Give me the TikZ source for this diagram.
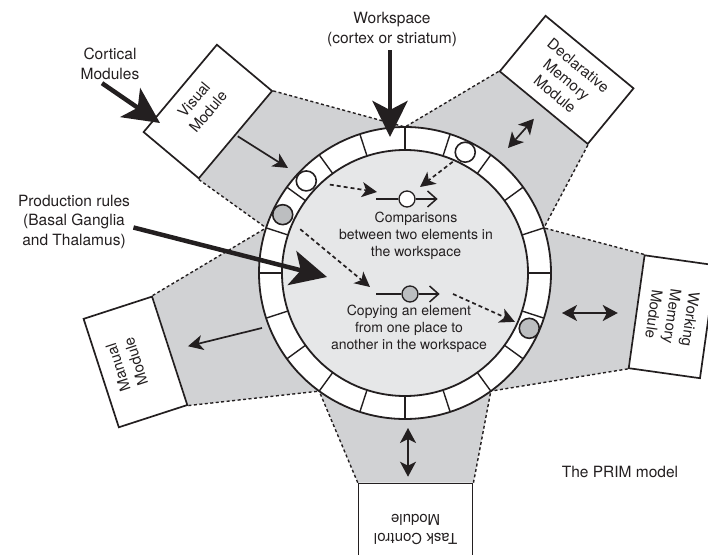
\documentclass[tikz,border=0pt]{standalone}
\usepackage{fontspec}
\setmainfont{TeX Gyre Heros}
\usetikzlibrary{arrows.meta,calc}
\definecolor{wedgegray}{RGB}{209,210,212}
\definecolor{discgray}{RGB}{230,231,232}
\definecolor{tokengray}{RGB}{188,190,192}
\definecolor{ink}{RGB}{35,31,32}
\pgfdeclarelayer{background}
\pgfsetlayers{background,main}

\begin{document}
\begin{tikzpicture}[x=1pt,y=1pt,ink,
  module/.style={draw=ink,line width=1.7pt,fill=white,minimum width=114pt,minimum height=72pt,inner sep=0pt},
  modtext/.style={align=center,font=\fontsize{15}{18.5}\selectfont},
  tag/.style={align=center,font=\fontsize{15.5}{19.5}\selectfont},
  note/.style={align=center,font=\fontsize{14}{17}\selectfont},
  dotline/.style={line width=1.4pt,dash pattern=on 3pt off 2.5pt},
  bigarrow/.style={line width=4.5pt,-{Stealth[length=36pt,width=35pt,inset=9pt]}},
  smallarrow/.style={line width=1.7pt,-{Stealth[length=15pt,width=15pt,inset=4pt]}},
  twoway/.style={line width=1.7pt,{Stealth[length=15pt,width=16pt,inset=4pt]}-{Stealth[length=15pt,width=16pt,inset=4pt]}},
  dasharrow/.style={line width=1.7pt,dash pattern=on 4pt off 3pt,-{Stealth[length=15pt,width=15pt,inset=4pt]}},
  slot/.style={circle,draw=ink,line width=1.6pt,minimum size=20pt,inner sep=0pt},
  token/.style={circle,draw=ink,line width=1.3pt,minimum size=16pt,inner sep=0pt},
  pointer/.style={line width=1.5pt,-{Straight Barb[length=9pt,width=16pt]}}]

\useasboundingbox (0,0) rectangle (708,554);
\clip (0,0) rectangle (708,554);

\begin{scope}[shift={(405,281)}]
\coordinate (C) at (0,0);
\foreach \a [count=\i] in {90,162,234,306,18}
  \coordinate (p\i) at (\a:146);

% modules round the workspace
\node[module,rotate=50,anchor=south] (visual) at (140.8:218) {};
\node[module,rotate=-39.5,anchor=south] (decl) at (50:215) {};
\node[module,rotate=-98,anchor=south] (wm) at (-9.5:234) {};
\node[module,rotate=180,anchor=south] (task) at (-87.1:210) {};
\node[module,rotate=108,anchor=south] (manual) at (198.3:247) {};

\foreach \m/\a/\b in {visual/2/1,decl/1/5,wm/5/4,task/4/3,manual/3/2} {
  \begin{pgfonlayer}{background}
  \fill[wedgegray] (\m.south west) -- (p\a) -- (C) -- (p\b) -- (\m.south east) -- cycle;
  \end{pgfonlayer}
  \draw[dotline] (\m.south west) -- (p\a) (\m.south east) -- (p\b);
}

% workspace ring
\draw[line width=1.8pt,fill=white] (C) circle (146);
\draw[line width=1.8pt,fill=discgray] (C) circle (123);
\foreach \a in {0,18,...,342}
  \draw[line width=1.4pt] (\a:123) -- (\a:146);

\node[slot,fill=white] (s1) at (137:135) {};
\node[slot,fill=tokengray] (s2) at (154.5:135.5) {};
\node[slot,fill=white] (s3) at (63.5:135) {};
\node[slot,fill=tokengray] (s4) at (-24:136) {};
\end{scope}

\node[modtext,rotate=50] at ($(visual.center)!9pt!(visual.north)$) {Visual\\Module};
\node[modtext,rotate=-39.5] at (decl.center) {Declarative\\Memory\\Module};
\node[modtext,rotate=-98] at (wm.center) {Working\\Memory\\Module};
\node[modtext,rotate=180] at ($(task.center)!10pt!(task.north)$) {Task Control\\Module};
\node[modtext,rotate=108] at ($(manual.center)!9pt!(manual.north)$) {Manual\\Module};

% operations inside the workspace
\node[token,fill=white] (cmp) at (407,355) {};
\draw[line width=1.5pt] ([xshift=-22pt]cmp.west) -- (cmp.west);
\draw[pointer] (cmp.east) -- ++(22pt,0);
\node[note] (cmptext) at (416,318) {Comparisons\\between two elements in\\the workspace};

\node[token,fill=tokengray] (copy) at (410,260) {};
\draw[line width=1.5pt] ([xshift=-25pt]copy.west) -- (copy.west);
\draw[pointer] (copy.east) -- ++(21pt,0);
\node[note] (copytext) at (409,225) {Copying an element\\from one place to\\another in the workspace};

\coordinate (cmpa) at (377,362);
\coordinate (cmpb) at (420,367);
\coordinate (copya) at (370,267);
\coordinate (copyb) at (453,260);
\draw[dasharrow,shorten <=13pt] (s1) -- (cmpa);
\draw[dasharrow,shorten <=5pt] (s3) -- (cmpb);
\draw[dasharrow,shorten <=12pt] (s2) -- (copya);
\draw[dasharrow,shorten >=5pt] (copyb) -- (s4);

% links between modules and workspace
\coordinate (vistip) at (288,386);
\coordinate (manout) at (262,226);
\coordinate (declin) at (508,406);
\coordinate (wmin) at (562,241);
\coordinate (taskin) at (408,126);
\draw[smallarrow,shorten <=2pt] (visual.south) -- (vistip);
\draw[smallarrow,shorten >=18pt] (manout) -- (manual.south);
\draw[twoway,shorten >=14pt] (declin) -- (decl.south);
\draw[twoway,shorten >=18pt] (wmin) -- (wmin -| wm.south);
\draw[twoway,shorten >=6pt] (taskin) -- (taskin |- task.south);

% labels
\node[tag] (cortical) at (110,490) {Cortical\\Modules};
\node[tag] (workspace) at (392,524.5) {Workspace\\(cortex or striatum)};
\node[tag] (prod) at (74,332.5) {Production rules\\(Basal Ganglia\\and Thalamus)};
\node[tag] (prim) at (620,82) {The PRIM model};

\coordinate (cortip) at (160,431);
\coordinate (wstip) at (390,417);
\coordinate (prodtip) at (327,277);
\draw[bigarrow] ([xshift=-8pt]cortical.south) -- (cortip);
\draw[bigarrow] ([xshift=-2pt]workspace.south) -- (wstip);
\draw[bigarrow] ([yshift=-6pt]prod.east) -- (prodtip);
\end{tikzpicture}
\end{document}
